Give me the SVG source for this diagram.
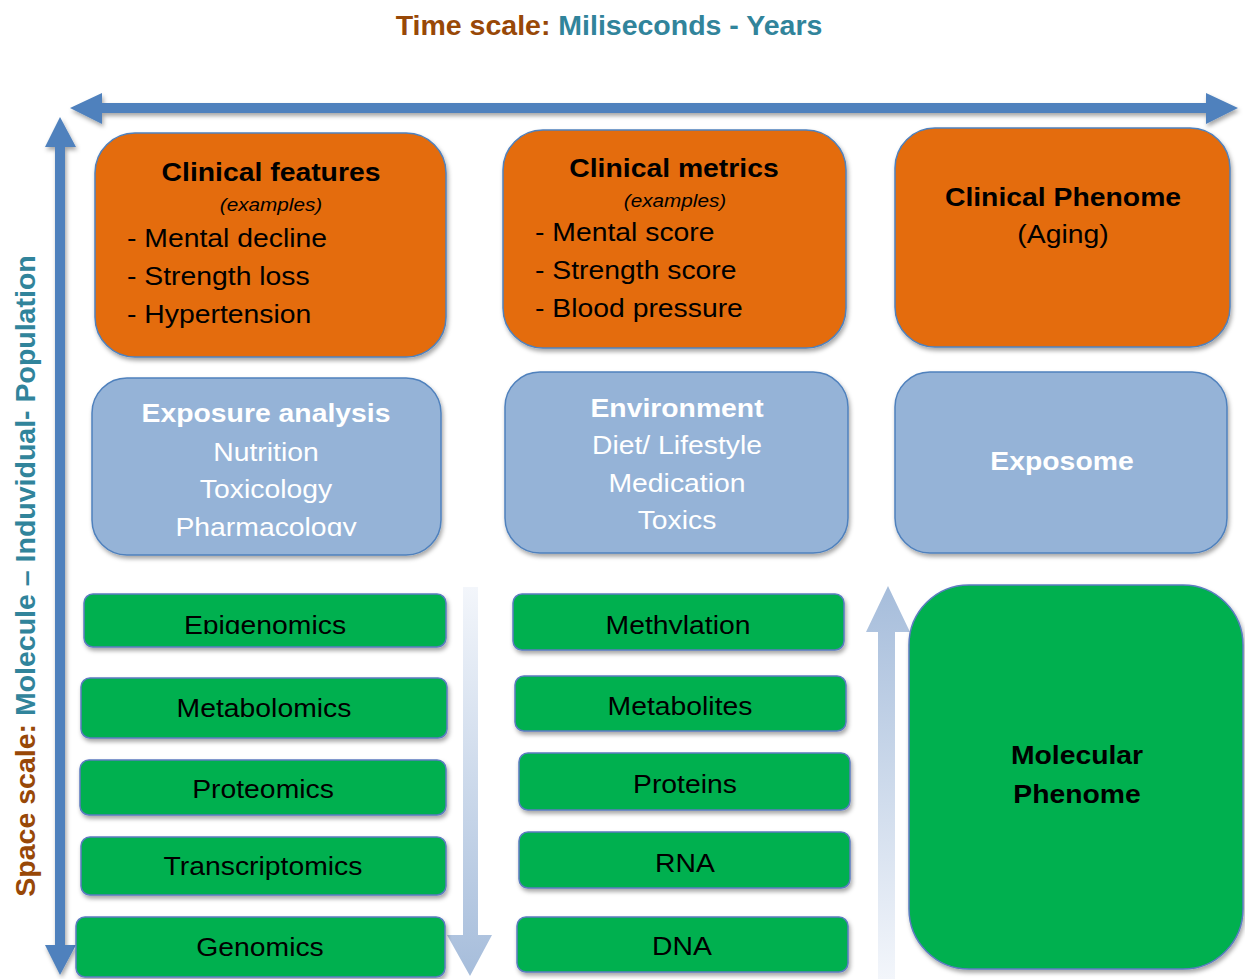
<svg xmlns="http://www.w3.org/2000/svg" width="1245" height="979" viewBox="0 0 1245 979">
  <defs>
    <style>
      text { font-family: "Liberation Sans", Arial, sans-serif; font-size: 26px; text-anchor: middle; }
      .b { font-weight: bold; }
      .i { font-style: italic; font-size: 19px; }
      .l { text-anchor: start; }
      .w { fill: #ffffff; }
      .k { fill: #000000; }
      .brown { fill: #984807; }
      .teal { fill: #31849B; }
      .orange { fill: #E46C0A; stroke: #4F81BD; stroke-width: 1.5; }
      .blue { fill: #95B3D7; stroke: #4F81BD; stroke-width: 1.5; }
      .green { fill: #00B050; stroke: #5B7BC0; stroke-width: 1.5; }
      .axis { fill: #4F81BD; }
    </style>
    <filter id="shadow" x="-10%" y="-10%" width="125%" height="130%">
      <feDropShadow dx="1.5" dy="3" stdDeviation="2.2" flood-color="#000000" flood-opacity="0.35"/>
    </filter>
    <linearGradient id="fadeDown" x1="0" y1="0" x2="0" y2="1">
      <stop offset="0" stop-color="#F3F6FB"/>
      <stop offset="1" stop-color="#A6BDDB"/>
    </linearGradient>
    <linearGradient id="fadeUp" x1="0" y1="0" x2="0" y2="1">
      <stop offset="0" stop-color="#A6BDDB"/>
      <stop offset="1" stop-color="#F3F6FB"/>
    </linearGradient>
    <!-- label lines that are cut off at the baseline -->
    <clipPath id="cutPharma"><rect x="92" y="378" width="349" height="158"/></clipPath>
    <clipPath id="cutEpi"><rect x="84" y="594" width="362" height="40"/></clipPath>
    <clipPath id="cutMeth"><rect x="513" y="594" width="331" height="40"/></clipPath>
  </defs>

  <rect width="1245" height="979" fill="#ffffff"/>

  <!-- axis titles -->
  <text id="time-title" class="b" x="609" y="35" style="font-size:28.5px"><tspan class="brown">Time scale: </tspan><tspan class="teal">Miliseconds - Years</tspan></text>
  <text id="space-title" class="b" transform="translate(34.5 576) rotate(-90)" style="font-size:28.5px"><tspan class="brown">Space scale: </tspan><tspan class="teal">Molecule – Induvidual- Population</tspan></text>

  <!-- axes and direction arrows -->
  <g id="connectors">
    <polygon class="axis" filter="url(#shadow)" points="70,108 102,93 102,103 1206,103 1206,93 1238,108 1206,124 1206,113 102,113 102,124"/>
    <polygon class="axis" filter="url(#shadow)" points="60,117 76,147 65,147 65,945 76,945 60,975 45,945 55,945 55,147 45,147"/>
    <polygon fill="url(#fadeDown)" points="463,587 478,587 478,935 492,935 470,976 447,935 463,935"/>
    <polygon fill="url(#fadeUp)" points="888,586 910,632 895,632 895,979 878,979 878,632 866,632"/>
  </g>

  <!-- clinical row -->
  <g id="clinical-features">
    <rect class="orange" filter="url(#shadow)" x="95" y="133" width="351" height="224" rx="40"/>
    <text class="b k" transform="translate(271 181) scale(1.09 1)">Clinical features</text>
    <text class="i k" transform="translate(271 211) scale(1.09 1)">(examples)</text>
    <text class="l k" transform="translate(127 247) scale(1.09 1)">- Mental decline</text>
    <text class="l k" transform="translate(127 285) scale(1.09 1)">- Strength loss</text>
    <text class="l k" transform="translate(127 323) scale(1.09 1)">- Hypertension</text>
  </g>
  <g id="clinical-metrics">
    <rect class="orange" filter="url(#shadow)" x="503" y="130" width="343" height="218" rx="40"/>
    <text class="b k" transform="translate(674 177) scale(1.09 1)">Clinical metrics</text>
    <text class="i k" transform="translate(675 207) scale(1.09 1)">(examples)</text>
    <text class="l k" transform="translate(535 241) scale(1.09 1)">- Mental score</text>
    <text class="l k" transform="translate(535 279) scale(1.09 1)">- Strength score</text>
    <text class="l k" transform="translate(535 317) scale(1.09 1)">- Blood pressure</text>
  </g>
  <g id="clinical-phenome">
    <rect class="orange" filter="url(#shadow)" x="895" y="128" width="335" height="219" rx="40"/>
    <text class="b k" transform="translate(1063 206) scale(1.09 1)">Clinical Phenome</text>
    <text class="k" transform="translate(1063 243) scale(1.09 1)">(Aging)</text>
  </g>

  <!-- exposure row -->
  <g id="exposure-analysis">
    <rect class="blue" filter="url(#shadow)" x="92" y="378" width="349" height="177" rx="35"/>
    <text class="b w" transform="translate(266 422) scale(1.09 1)">Exposure analysis</text>
    <text class="w" transform="translate(266 461) scale(1.09 1)">Nutrition</text>
    <text class="w" transform="translate(266 498) scale(1.09 1)">Toxicology</text>
    <g clip-path="url(#cutPharma)">
      <text class="w" transform="translate(266 536) scale(1.09 1)">Pharmacology</text>
    </g>
  </g>
  <g id="environment">
    <rect class="blue" filter="url(#shadow)" x="505" y="372" width="343" height="181" rx="35"/>
    <text class="b w" transform="translate(677 417) scale(1.09 1)">Environment</text>
    <text class="w" transform="translate(677 454) scale(1.09 1)">Diet/ Lifestyle</text>
    <text class="w" transform="translate(677 492) scale(1.09 1)">Medication</text>
    <text class="w" transform="translate(677 529) scale(1.09 1)">Toxics</text>
  </g>
  <g id="exposome">
    <rect class="blue" filter="url(#shadow)" x="895" y="372" width="332" height="181" rx="35"/>
    <text class="b w" transform="translate(1062 470) scale(1.09 1)">Exposome</text>
  </g>

  <!-- omics layers -->
  <g id="epigenomics">
    <rect class="green" filter="url(#shadow)" x="84" y="594" width="362" height="53" rx="9"/>
    <g clip-path="url(#cutEpi)">
      <text class="k" transform="translate(265 634) scale(1.09 1)">Epigenomics</text>
    </g>
  </g>
  <g id="metabolomics">
    <rect class="green" filter="url(#shadow)" x="81" y="678" width="366" height="60" rx="9"/>
    <text class="k" transform="translate(264 717) scale(1.09 1)">Metabolomics</text>
  </g>
  <g id="proteomics">
    <rect class="green" filter="url(#shadow)" x="80" y="760" width="366" height="55" rx="9"/>
    <text class="k" transform="translate(263 798) scale(1.09 1)">Proteomics</text>
  </g>
  <g id="transcriptomics">
    <rect class="green" filter="url(#shadow)" x="81" y="837" width="365" height="58" rx="9"/>
    <text class="k" transform="translate(263 875) scale(1.09 1)">Transcriptomics</text>
  </g>
  <g id="genomics">
    <rect class="green" filter="url(#shadow)" x="76" y="917" width="369" height="60" rx="9"/>
    <text class="k" transform="translate(260 956) scale(1.09 1)">Genomics</text>
  </g>

  <!-- molecule layers -->
  <g id="methylation">
    <rect class="green" filter="url(#shadow)" x="513" y="594" width="331" height="56" rx="9"/>
    <g clip-path="url(#cutMeth)">
      <text class="k" transform="translate(678 634) scale(1.09 1)">Methylation</text>
    </g>
  </g>
  <g id="metabolites">
    <rect class="green" filter="url(#shadow)" x="515" y="676" width="331" height="55" rx="9"/>
    <text class="k" transform="translate(680 715) scale(1.09 1)">Metabolites</text>
  </g>
  <g id="proteins">
    <rect class="green" filter="url(#shadow)" x="519" y="753" width="331" height="57" rx="9"/>
    <text class="k" transform="translate(685 793) scale(1.09 1)">Proteins</text>
  </g>
  <g id="rna">
    <rect class="green" filter="url(#shadow)" x="519" y="832" width="331" height="56" rx="9"/>
    <text class="k" transform="translate(685 872) scale(1.09 1)">RNA</text>
  </g>
  <g id="dna">
    <rect class="green" filter="url(#shadow)" x="517" y="917" width="331" height="55" rx="9"/>
    <text class="k" transform="translate(682 955) scale(1.09 1)">DNA</text>
  </g>

  <g id="molecular-phenome">
    <rect class="green" filter="url(#shadow)" x="909" y="585" width="334" height="384" rx="60"/>
    <text class="b k" transform="translate(1077 764) scale(1.09 1)">Molecular</text>
    <text class="b k" transform="translate(1077 803) scale(1.09 1)">Phenome</text>
  </g>
</svg>
